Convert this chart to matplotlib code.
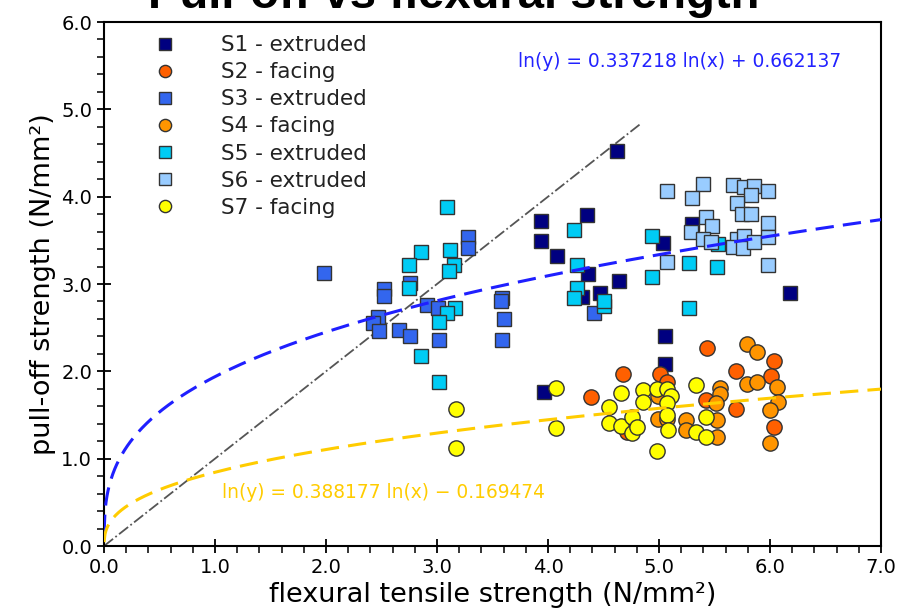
import matplotlib
matplotlib.use('Agg')
import matplotlib.pyplot as plt
from matplotlib.ticker import MultipleLocator, FormatStrFormatter
import numpy as np

# series: (x = flexural tensile strength, y = pull-off strength)
s1_x = [4.62, 3.94, 3.94, 4.08, 4.35, 4.36, 4.64, 4.47, 4.31, 3.96, 5.30, 5.04, 6.18, 5.05, 5.05]
s1_y = [4.52, 3.72, 3.49, 3.32, 3.79, 3.11, 3.03, 2.90, 2.85, 1.76, 3.69, 3.47, 2.90, 2.40, 2.08]

s2_x = [4.39, 4.68, 5.01, 5.43, 5.69, 6.04, 6.01, 5.69, 6.04, 5.42, 5.07, 4.71]
s2_y = [1.71, 1.97, 1.97, 2.27, 2.00, 2.12, 1.95, 1.57, 1.36, 1.67, 1.88, 1.31]

s3_x = [1.98, 2.52, 2.52, 2.47, 2.42, 2.48, 2.66, 2.76, 2.91, 3.01, 3.02, 2.76,
        3.28, 3.28, 3.59, 3.60, 3.59, 4.41, 3.58]
s3_y = [3.13, 2.94, 2.86, 2.62, 2.55, 2.46, 2.47, 2.40, 2.76, 2.72, 2.36, 3.01,
        3.54, 3.41, 2.84, 2.60, 2.36, 2.67, 2.81]

s4_x = [5.79, 5.88, 5.79, 5.88, 6.06, 6.07, 6.00, 6.00, 5.55, 5.55, 5.51, 5.52,
        5.52, 5.24, 5.24, 4.99, 4.99, 5.07, 4.76]
s4_y = [2.31, 2.22, 1.86, 1.88, 1.82, 1.65, 1.56, 1.18, 1.81, 1.74, 1.64, 1.44,
        1.25, 1.44, 1.33, 1.72, 1.45, 1.45, 1.33]

s5_x = [3.09, 2.86, 2.75, 3.12, 3.15, 3.11, 2.75, 3.16, 3.09, 3.02, 2.86, 3.02,
        4.23, 4.26, 4.26, 4.23, 4.50, 4.50, 4.94, 5.27, 5.52, 4.94, 5.27, 5.53]
s5_y = [3.88, 3.37, 3.22, 3.39, 3.22, 3.15, 2.95, 2.72, 2.67, 2.56, 2.17, 1.88,
        3.62, 3.22, 2.95, 2.84, 2.75, 2.80, 3.55, 3.24, 3.19, 3.08, 2.72, 3.46]

s6_x = [5.07, 5.40, 5.30, 5.67, 5.77, 5.86, 5.98, 5.83, 5.70, 5.75, 5.83, 5.42,
        5.48, 5.29, 5.40, 5.47, 5.70, 5.77, 5.67, 5.76, 5.86, 5.98, 5.98, 5.98, 5.07]
s6_y = [4.07, 4.15, 3.99, 4.13, 4.11, 4.12, 4.07, 4.02, 3.93, 3.80, 3.80, 3.77,
        3.66, 3.60, 3.52, 3.48, 3.52, 3.55, 3.42, 3.41, 3.48, 3.70, 3.54, 3.22, 3.25]

s7_x = [3.17, 3.17, 4.07, 4.07, 4.66, 4.55, 4.55, 4.66, 4.86, 4.86, 4.98, 5.07,
        5.11, 5.07, 5.07, 4.76, 4.76, 4.80, 5.08, 5.33, 5.42, 5.33, 5.42, 4.98]
s7_y = [1.57, 1.12, 1.81, 1.35, 1.75, 1.59, 1.41, 1.37, 1.79, 1.65, 1.80, 1.80,
        1.72, 1.64, 1.50, 1.48, 1.29, 1.36, 1.33, 1.84, 1.48, 1.31, 1.25, 1.09]

# fitted power laws: ln(y) = a ln(x) + b
fit_ext = (0.337218, 0.662137)
fit_fac = (0.388177, -0.169474)

plt.rcParams['font.family'] = 'DejaVu Sans'
fig = plt.figure(figsize=(9.01, 6.14), dpi=100)
ax = fig.add_axes([104/901, 68/614, 777/901, 524/614])

ms_sq = 10
ms_ci = 11
ax.plot(s1_x, s1_y, 's', color='#000080', mec='#333333', ms=ms_sq, label='S1 - extruded', zorder=3)
ax.plot(s2_x, s2_y, 'o', color='#ff6000', mec='#333333', ms=ms_ci, label='S2 - facing', zorder=3)
ax.plot(s3_x, s3_y, 's', color='#3366ee', mec='#333333', ms=ms_sq, label='S3 - extruded', zorder=3)
ax.plot(s4_x, s4_y, 'o', color='#ff9500', mec='#333333', ms=ms_ci, label='S4 - facing', zorder=3)
ax.plot(s5_x, s5_y, 's', color='#00ccf5', mec='#333333', ms=ms_sq, label='S5 - extruded', zorder=3)
ax.plot(s6_x, s6_y, 's', color='#99ccff', mec='#333333', ms=ms_sq, label='S6 - extruded', zorder=3)
ax.plot(s7_x, s7_y, 'o', color='#ffff00', mec='#333333', ms=ms_ci, label='S7 - facing', zorder=3)

xs = np.linspace(0.0005, 7, 800)
ax.plot(xs, np.exp(fit_ext[1]) * xs**fit_ext[0], '--', color='#1f1fff', lw=2.2, dashes=(6, 3), zorder=4)
ax.plot(xs, np.exp(fit_fac[1]) * xs**fit_fac[0], '--', color='#ffcc00', lw=2.2, dashes=(6, 3), zorder=4)
ax.plot([0, 4.83], [0, 4.83], '-.', color='#555555', lw=1.3, zorder=2)

ax.text(0.533, 0.925, 'ln(y) = 0.337218 ln(x) + 0.662137', transform=ax.transAxes,
        color='#2222ff', fontsize=13.4, va='center')
ax.text(0.152, 0.102, 'ln(y) = 0.388177 ln(x) \u2212 0.169474', transform=ax.transAxes,
        color='#ffcc00', fontsize=13.4, va='center')

leg = ax.legend(loc='upper left', bbox_to_anchor=(0.026, 1.012), frameon=False, fontsize=15.5,
                handletextpad=1.6, labelspacing=0.33, handlelength=2.0, numpoints=1,
                markerscale=0.8)
for t in leg.get_texts():
    t.set_color('#222222')

ax.set_xlim(0, 7)
ax.set_ylim(0, 6)
ax.xaxis.set_major_locator(MultipleLocator(1))
ax.yaxis.set_major_locator(MultipleLocator(1))
ax.xaxis.set_minor_locator(MultipleLocator(0.2))
ax.yaxis.set_minor_locator(MultipleLocator(0.2))
ax.xaxis.set_major_formatter(FormatStrFormatter('%.1f'))
ax.yaxis.set_major_formatter(FormatStrFormatter('%.1f'))
ax.tick_params(which='major', direction='inout', length=10, width=1.3, labelsize=14)
ax.tick_params(which='minor', direction='out', length=5, width=1.1)
for sp in ax.spines.values():
    sp.set_linewidth(1.5)

ax.set_xlabel('flexural tensile strength (N/mm\u00b2)', fontsize=19.5, labelpad=4)
ax.set_ylabel('pull-off strength (N/mm\u00b2)', fontsize=19.5, labelpad=4)

fig.text(0.504, 0.987, 'Pull-off vs flexural strength', ha='center', va='baseline',
         fontsize=34, fontweight='bold', family='Liberation Sans')

fig.savefig('out.png', dpi=100)
